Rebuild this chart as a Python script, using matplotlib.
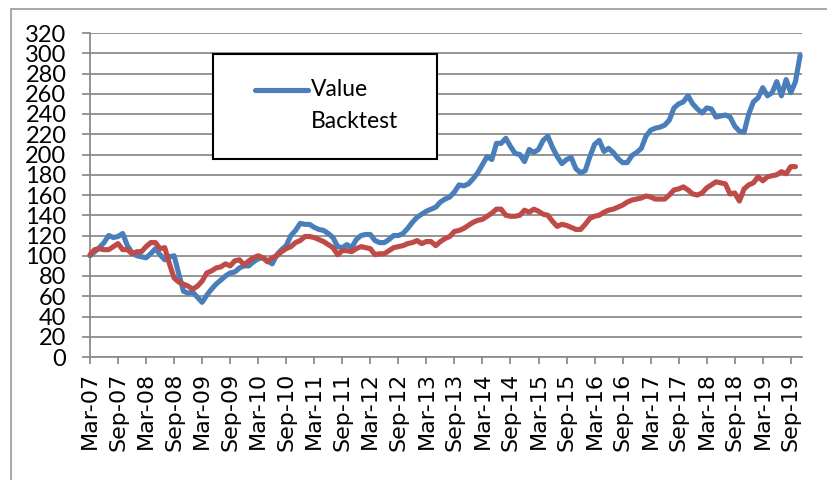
import numpy as np
import matplotlib
matplotlib.use('Agg')
from matplotlib import pyplot as plt
from matplotlib.patches import Rectangle
from matplotlib.lines import Line2D

# monthly index values, Mar-07 onwards
value = [100, 104, 108, 113, 120, 118, 119, 122, 110, 103,
         100, 99, 98, 102, 107, 101, 96, 99, 100, 82,
         65, 63, 64, 59, 54, 61, 67, 72, 76, 80,
         83, 84, 88, 90, 90, 94, 97, 98, 95, 92,
         101, 106, 110, 120, 125, 132, 131, 131, 128, 126,
         125, 122, 118, 109, 108, 111, 108, 116, 120, 121,
         121, 115, 113, 113, 116, 120, 120, 122, 127, 133,
         138, 141, 144, 146, 148, 153, 156, 158, 163, 170,
         169, 171, 176, 182, 190, 198, 195, 211, 211, 216,
         208, 201, 200, 193, 205, 202, 205, 214, 218, 207,
         198, 191, 195, 197, 186, 182, 184, 198, 210, 214,
         203, 206, 202, 196, 192, 192, 199, 202, 206, 218,
         224, 226, 227, 229, 234, 246, 250, 252, 258, 250,
         245, 241, 246, 245, 237, 238, 239, 237, 228, 223,
         222, 240, 252, 256, 266, 258, 261, 272, 258, 274,
         261, 272, 298]

backtest = [101, 106, 107, 106, 106, 109, 112, 106, 106, 102,
            104, 104, 109, 113, 113, 107, 108, 92, 78, 74,
            72, 70, 67, 70, 75, 83, 85, 88, 89, 92,
            90, 95, 96, 91, 95, 98, 100, 98, 94, 98,
            100, 104, 107, 109, 113, 115, 119, 119, 118, 116,
            114, 111, 108, 101, 105, 105, 104, 107, 109, 108,
            107, 101, 102, 102, 105, 108, 109, 110, 112, 113,
            115, 112, 114, 114, 110, 114, 117, 119, 124, 125,
            127, 130, 133, 135, 136, 139, 142, 146, 146, 140,
            139, 139, 140, 145, 143, 146, 144, 141, 140, 134,
            129, 131, 130, 128, 126, 126, 131, 137, 139, 140,
            143, 145, 146, 148, 150, 153, 155, 156, 157, 159,
            158, 156, 156, 156, 160, 165, 166, 168, 165, 161,
            160, 162, 167, 170, 173, 172, 171, 161, 162, 154,
            166, 170, 172, 178, 174, 178, 179, 180, 183, 181,
            188, 188]

tick_labels = ['Mar-07', 'Sep-07', 'Mar-08', 'Sep-08', 'Mar-09', 'Sep-09',
               'Mar-10', 'Sep-10', 'Mar-11', 'Sep-11', 'Mar-12', 'Sep-12',
               'Mar-13', 'Sep-13', 'Mar-14', 'Sep-14', 'Mar-15', 'Sep-15',
               'Mar-16', 'Sep-16', 'Mar-17', 'Sep-17', 'Mar-18', 'Sep-18',
               'Mar-19', 'Sep-19']

blue = '#4a7ebb'
red = '#be4b48'
grid_col = '#8c8c8c'

fig = plt.figure(figsize=(8.28, 4.8), dpi=100)
ax = fig.add_axes([90/828, 1 - 357/480, 712/828, 324/480])

ax.plot(np.arange(len(value)), value, color=blue, linewidth=3.7,
        solid_joinstyle='round', solid_capstyle='round', zorder=3, clip_on=False)
ax.plot(np.arange(len(backtest)), backtest, color=red, linewidth=3.7,
        solid_joinstyle='round', solid_capstyle='round', zorder=4, clip_on=False)

ax.set_xlim(0, len(value) - 0.6)
ax.set_ylim(0, 320)
ax.set_yticks(np.arange(0, 321, 20))
ax.set_xticks(np.arange(0, 6 * len(tick_labels), 6))
ax.set_xticklabels(tick_labels, rotation=90, fontsize=16, family='DejaVu Sans')
for lab in ax.get_yticklabels():
    lab.set_family('Lato')
    lab.set_fontsize(17)

ax.yaxis.grid(True, color=grid_col, linewidth=1.3)
ax.set_axisbelow(True)
for side in ['top', 'right']:
    ax.spines[side].set_visible(False)
for side in ['left', 'bottom']:
    ax.spines[side].set_color(grid_col)
    ax.spines[side].set_linewidth(1.3)
ax.tick_params(axis='y', length=6, width=1.3, color=grid_col, pad=11)
ax.tick_params(axis='x', length=5, width=1.3, color=grid_col, pad=6)

# legend box (only Value shows a line)
fig.patches.append(Rectangle((213/828, 1 - 159/480), 224/828, 105/480,
                             transform=fig.transFigure, fill=True, facecolor='white',
                             edgecolor='black', linewidth=1.5, zorder=5))
fig.lines.append(Line2D([255/828, 308/828], [1 - 90/480, 1 - 90/480],
                        transform=fig.transFigure, color=blue, linewidth=3.7,
                        solid_capstyle='round', zorder=6))
fig.text(311/828, 1 - 90/480, 'Value', family='Lato', fontsize=16.5,
         va='center', ha='left', zorder=6)
fig.text(311/828, 1 - 122/480, 'Backtest', family='Lato', fontsize=16.5,
         va='center', ha='left', zorder=6)

# outer chart border
fig.patches.append(Rectangle((11/828, -0.2), 1.0, 1.2 - 9/480,
                             transform=fig.transFigure, fill=False,
                             edgecolor='#a0a0a0', linewidth=1.3, zorder=0))

plt.savefig('out.png', dpi=100)
